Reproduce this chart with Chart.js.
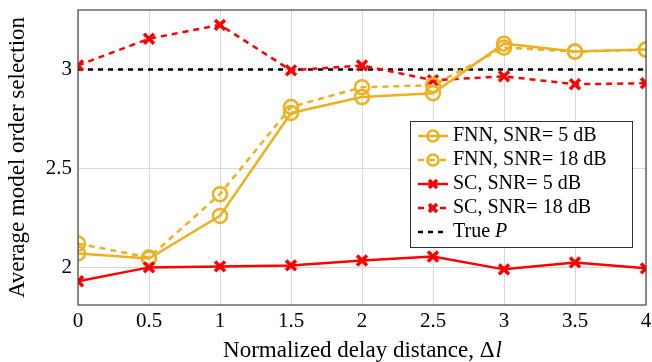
<!DOCTYPE html>
<html>
<head>
<meta charset="utf-8">
<script src="https://cdn.jsdelivr.net/npm/chart.js@4"></script>
<style>
  html, body { margin: 0; padding: 0; background: #fff; }
  #wrap { width: 652px; height: 362px; }
</style>
</head>
<body>
<div id="wrap"><canvas id="myChart" width="652" height="362"></canvas></div>
<script>
// delay distance values (x axis)
var deltaL = [0, 0.5, 1, 1.5, 2, 2.5, 3, 3.5, 4];

// average model order
var fnn5 = [2.07, 2.045, 2.26, 2.78, 2.86, 2.88, 3.13, 3.09, 3.10];
var fnn18 = [2.12, 2.05, 2.37, 2.81, 2.91, 2.92, 3.11, 3.09, 3.10];
var sc5 = [1.93, 2.0, 2.005, 2.01, 2.035, 2.055, 1.99, 2.025, 1.995];
var sc18 = [3.02, 3.155, 3.225, 2.995, 3.02, 2.945, 2.965, 2.925, 2.93];
var trueP = [3, 3, 3, 3, 3, 3, 3, 3, 3];

var yTicks = [2, 2.5, 3];

var orange = '#EDB120';
var red = '#FF0000';
var serif = '"Liberation Serif", "DejaVu Serif", serif';

function pts(ys) {
  return ys.map(function (y, i) { return { x: deltaL[i], y: y }; });
}

var data = {
  datasets: [
    { label: 'FNN, SNR= 5 dB', data: pts(fnn5), borderColor: orange, borderWidth: 2.5,
      pointStyle: 'circle', pointRadius: 7, pointBorderWidth: 2.5, pointBackgroundColor: 'rgba(0,0,0,0)',
      pointBorderColor: orange, order: 2 },
    { label: 'FNN, SNR= 18 dB', data: pts(fnn18), borderColor: orange, borderWidth: 2.5, borderDash: [6, 5],
      pointStyle: 'circle', pointRadius: 7, pointBorderWidth: 2.5, pointBackgroundColor: 'rgba(0,0,0,0)',
      pointBorderColor: orange, order: 3 },
    { label: 'SC, SNR= 5 dB', data: pts(sc5), borderColor: red, borderWidth: 2.5,
      pointStyle: 'crossRot', pointRadius: 7, pointBorderWidth: 3.5, pointBorderColor: red, order: 1 },
    { label: 'SC, SNR= 18 dB', data: pts(sc18), borderColor: red, borderWidth: 2.5, borderDash: [6, 5],
      pointStyle: 'crossRot', pointRadius: 7, pointBorderWidth: 3.5, pointBorderColor: red, order: 4 },
    { label: 'True P', data: pts(trueP), borderColor: '#000', borderWidth: 2.5, borderDash: [5, 5],
      pointRadius: 0, order: 5 }
  ]
};

// legend drawn inside the plot area, like the original
var boxLegend = {
  id: 'boxLegend',
  afterDraw: function (chart) {
    var ctx = chart.ctx;
    var x0 = 410, y0 = 121, w = 222, h = 126;
    var fs = 20;
    ctx.save();
    ctx.fillStyle = '#fff';
    ctx.fillRect(x0, y0, w, h);
    ctx.strokeStyle = '#333';
    ctx.lineWidth = 1;
    ctx.strokeRect(x0 + 0.5, y0 + 0.5, w, h);
    ctx.font = fs + 'px ' + serif;
    ctx.textBaseline = 'middle';
    chart.data.datasets.forEach(function (ds, i) {
      var cy = y0 + 15 + i * 24;
      var lx = x0 + 8, rx = x0 + 38;
      ctx.strokeStyle = ds.borderColor;
      ctx.lineWidth = 2.5;
      ctx.setLineDash(ds.borderDash || []);
      ctx.beginPath();
      ctx.moveTo(lx, cy);
      ctx.lineTo(rx, cy);
      ctx.stroke();
      ctx.setLineDash([]);
      if (ds.pointRadius) {
        ctx.fillStyle = 'rgba(0,0,0,0)';
        ctx.lineWidth = ds.pointBorderWidth;
        Chart.helpers.drawPoint(ctx, { pointStyle: ds.pointStyle, radius: ds.pointRadius * 0.8,
          borderWidth: ds.pointBorderWidth }, (lx + rx) / 2, cy);
      }
      ctx.fillStyle = '#000';
      if (ds.label === 'True P') {
        ctx.fillText('True ', rx + 5, cy);
        var tw = ctx.measureText('True ').width;
        ctx.font = 'italic ' + fs + 'px ' + serif;
        ctx.fillText('P', rx + 5 + tw, cy);
        ctx.font = fs + 'px ' + serif;
      } else {
        ctx.fillText(ds.label, rx + 5, cy);
      }
    });
    ctx.restore();
  }
};

// frame around the plot area, plus the x title with an italic l
var frame = {
  id: 'frame',
  afterDatasetsDraw: function (chart) {
    var a = chart.chartArea, ctx = chart.ctx;
    ctx.save();
    ctx.strokeStyle = '#444';
    ctx.lineWidth = 1.2;
    ctx.strokeRect(a.left, a.top, a.right - a.left, a.bottom - a.top);
    ctx.restore();
  },
  afterDraw: function (chart) {
    var a = chart.chartArea, ctx = chart.ctx;
    var part1 = 'Normalized delay distance, \u0394', part2 = 'l';
    ctx.save();
    ctx.fillStyle = '#000';
    ctx.textBaseline = 'alphabetic';
    ctx.font = '23px ' + serif;
    var w1 = ctx.measureText(part1).width;
    ctx.font = 'italic 23px ' + serif;
    var w2 = ctx.measureText(part2).width;
    var x = (a.left + a.right) / 2 - (w1 + w2) / 2;
    ctx.font = '23px ' + serif;
    ctx.fillText(part1, x, 357);
    ctx.font = 'italic 23px ' + serif;
    ctx.fillText(part2, x + w1 + 1, 357);
    ctx.restore();
  }
};

function plainNum(v) { return String(v); }

var options = {
  responsive: false,
  animation: false,
  layout: { autoPadding: false, padding: { left: 0, right: 6, top: 10, bottom: 0 } },
  plugins: { legend: { display: false }, tooltip: { enabled: false } },
  scales: {
    x: {
      type: 'linear', min: 0, max: 4,
      ticks: { stepSize: 0.5, color: '#000', font: { family: serif, size: 21 }, padding: 4, maxRotation: 0,
        callback: plainNum },
      grid: { color: '#d8d8d8', lineWidth: 1, drawTicks: false },
      border: { display: false },
      afterFit: function (s) { s.height = 57; s.paddingLeft = 0; s.paddingRight = 0; }
    },
    y: {
      min: 1.81, max: 3.3,
      afterBuildTicks: function (s) { s.ticks = yTicks.map(function (v) { return { value: v }; }); },
      ticks: { color: '#000', font: { family: serif, size: 21 }, padding: 6, callback: plainNum },
      grid: { color: '#d8d8d8', lineWidth: 1, drawTicks: false },
      border: { display: false },
      title: { display: true, text: 'Average model order selection', color: '#000',
        font: { family: serif, size: 23 }, padding: { top: 4, bottom: 0 } },
      afterFit: function (s) { s.width = 78; s.paddingTop = 0; s.paddingBottom = 0; }
    }
  },
  elements: { line: { tension: 0, fill: false } }
};

var ctx = document.getElementById('myChart').getContext('2d');
var myChart = new Chart(ctx, {
  type: 'line',
  data: data,
  options: options,
  plugins: [frame, boxLegend]
});
</script>
</body>
</html>
